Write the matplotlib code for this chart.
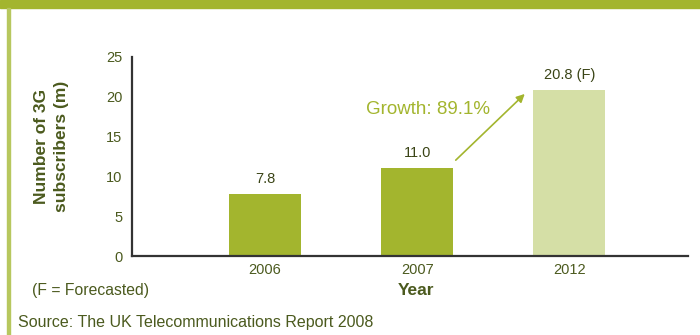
import matplotlib
matplotlib.use('Agg')
import matplotlib.pyplot as plt
from matplotlib.patches import Rectangle

years = ['2006', '2007', '2012']
subscribers = [7.8, 11.0, 20.8]
value_labels = ['7.8', '11.0', '20.8 (F)']
growth_text = 'Growth: 89.1%'

green = '#a3b52e'
light_green = '#d5dfa6'
text_col = '#4b5a1e'

plt.rcParams['font.family'] = ['Liberation Sans', 'DejaVu Sans']

fig = plt.figure(figsize=(7, 3.35), dpi=100)

# frame: top band and left rule
fig.patches.append(Rectangle((0, 1 - 8 / 335), 1, 8 / 335, transform=fig.transFigure,
                             color=green, zorder=0))
fig.patches.append(Rectangle((7 / 700, 0), 2.5 / 700, 1 - 8 / 335, transform=fig.transFigure,
                             color='#b7c75e', zorder=0))

ax = fig.add_axes([132 / 700, 1 - 256 / 335, (688 - 132) / 700, (256 - 57) / 335])
x = range(len(years))
colors = [green, green, light_green]
ax.bar(x, subscribers, width=0.474, color=colors, zorder=2)

for i, (v, lab) in enumerate(zip(subscribers, value_labels)):
    ax.text(i, v + 1.0, lab, ha='center', va='bottom', fontsize=10.5, color='#3a4416')

ax.annotate('', xy=(1.72, 20.6), xytext=(1.24, 11.8),
            arrowprops=dict(arrowstyle='-|>', color=green, lw=1.2, mutation_scale=12))
ax.text(1.48, 18.4, growth_text, ha='right', va='center', fontsize=13.5, color=green)

ax.set_xlim(-0.875, 2.78)
ax.set_ylim(0, 25)
ax.set_yticks([0, 5, 10, 15, 20, 25])
ax.set_xticks(list(x))
ax.set_xticklabels(years)
ax.tick_params(length=0, labelsize=10.5, colors=text_col, pad=7)
ax.tick_params(axis='x', pad=5)
for s in ['top', 'right']:
    ax.spines[s].set_visible(False)
for s in ['left', 'bottom']:
    ax.spines[s].set_color('#333333')
    ax.spines[s].set_linewidth(1.6)

ax.set_ylabel('Number of 3G\nsubscribers (m)', fontsize=12.5, fontweight='bold',
              color=text_col, linespacing=1.4)
ax.yaxis.set_label_coords(-0.113, 0.55)
ax.set_xlabel('Year', fontsize=12.5, fontweight='bold', color=text_col)
ax.xaxis.set_label_coords(0.51, -0.135)

fig.text(32 / 700, 1 - 291 / 335, '(F = Forecasted)', fontsize=11.3, color=text_col,
         ha='left', va='center')
fig.text(18 / 700, 1 - 322 / 335, 'Source: The UK Telecommunications Report 2008',
         fontsize=11.5, color=text_col, ha='left', va='center')

fig.savefig('out.png', dpi=100)
